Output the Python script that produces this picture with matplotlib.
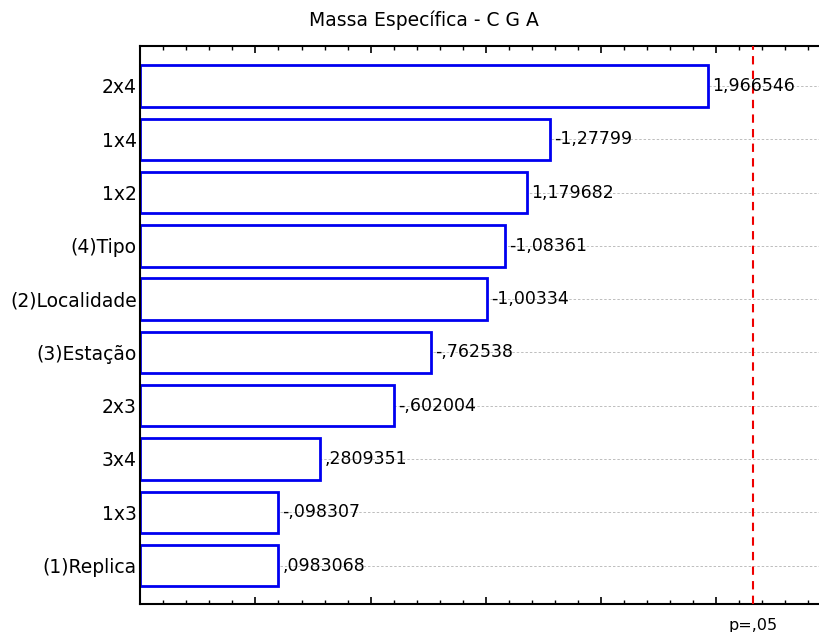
import matplotlib
matplotlib.use("Agg")
import matplotlib.pyplot as plt
from matplotlib.ticker import MultipleLocator, NullFormatter

# Data (top to bottom as in the chart)
categories = ["2x4", "1x4", "1x2", "(4)Tipo", "(2)Localidade", "(3)Estação",
              "2x3", "3x4", "1x3", "(1)Replica"]
effects = [1.966546, -1.27799, 1.179682, -1.08361, -1.00334, -0.762538,
           -0.602004, 0.2809351, -0.098307, 0.0983068]
value_labels = ["1,966546", "-1,27799", "1,179682", "-1,08361", "-1,00334",
                "-,762538", "-,602004", ",2809351", "-,098307", ",0983068"]
t_critical = 2.1604
title = "Massa Específica - C G A"
crit_label = "p=,05"

plt.rcParams['font.family'] = ['DejaVu Sans']
FS_VAL = 12.5
FS_CAT = 13.5

fig = plt.figure(figsize=(8.19, 6.32), dpi=100)
ax = fig.add_axes([0.1713, 0.0443, 0.8287, 0.8834])

xmin, xmax = -0.5, 2.447
n = len(categories)
ypos = list(range(n - 1, -1, -1))
absvals = [abs(v) for v in effects]

ax.set_xlim(xmin, xmax)
ax.set_ylim(-0.7226, 9.756)

# grid lines at category centres
for y in ypos:
    ax.axhline(y, color="#bdbdbd", lw=0.7, ls=(0, (2.5, 2)), zorder=0)

ax.barh(ypos, [a - xmin for a in absvals], left=xmin, height=0.777,
        color="white", edgecolor="#0000f0", linewidth=2.0, zorder=2)

for y, a, lab in zip(ypos, absvals, value_labels):
    ax.annotate(lab, (a, y), xytext=(3, 0), textcoords="offset points",
                ha="left", va="center", fontsize=FS_VAL, color="black", zorder=4)

ax.axvline(t_critical, color="#ee0000", lw=1.5, ls=(0, (4, 3)), zorder=3)
ax.annotate(crit_label, (t_critical, 0), xycoords=("data", "axes fraction"),
            xytext=(0, -10), textcoords="offset points", ha="center", va="top",
            fontsize=11.5)

ax.set_yticks(ypos)
ax.set_yticklabels(categories, fontsize=FS_CAT)
ax.xaxis.set_major_locator(MultipleLocator(0.5))
ax.xaxis.set_minor_locator(MultipleLocator(0.1))
ax.xaxis.set_major_formatter(NullFormatter())
ax.tick_params(axis="x", which="major", direction="in", length=5, width=1.2,
               top=True, bottom=True)
ax.tick_params(axis="x", which="minor", direction="in", length=3, width=1.0,
               top=True, bottom=True)
ax.tick_params(axis="y", which="major", direction="in", length=3, width=1.0,
               pad=2.5)

for s in ["left", "bottom", "top"]:
    ax.spines[s].set_linewidth(1.5)
ax.spines["right"].set_visible(False)

fig.text(424 / 819, 1 - 20 / 632, title, ha="center", va="center", fontsize=FS_CAT)

fig.savefig("out.png", dpi=100)
